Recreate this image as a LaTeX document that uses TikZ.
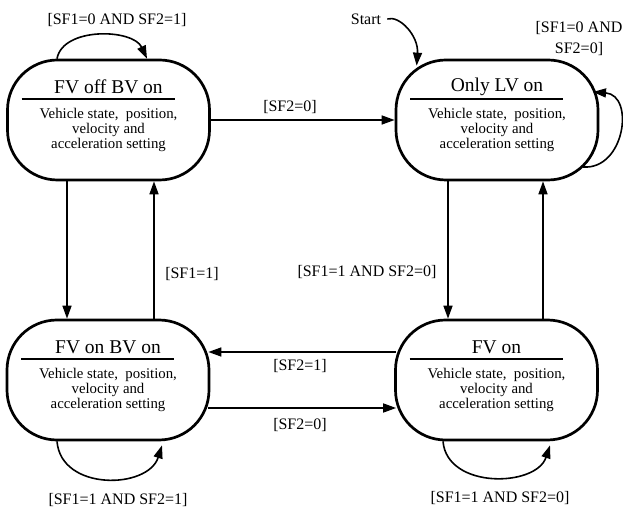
\documentclass[tikz,border=0pt]{standalone}
\usepackage{fontspec}
\setmainfont{Liberation Serif}
\usetikzlibrary{arrows.meta}
\begin{document}
\begin{tikzpicture}[x=1pt,y=-1pt,
  state/.style={draw, line width=2.7pt, rounded corners=50pt, minimum width=202pt, minimum height=120pt, inner sep=0pt},
  ttl/.style={font=\fontsize{19.5}{21}\selectfont, inner sep=0pt},
  body/.style={font=\fontsize{14.8}{15}\selectfont, align=center, inner sep=0pt},
  lbl/.style={font=\fontsize{16}{21}\selectfont, inner sep=0pt, align=center},
  conn/.style={line width=1.6pt, -{Triangle[length=13pt,width=9pt]}},
  sep/.style={line width=1.5pt}
]
\fill[white] (0,0) rectangle (623,510);
\useasboundingbox (0,0) rectangle (623,510);

\node[state] (s1) at (108.5,120) {};
\node[state] (s2) at (497,120) {};
\node[state] (s3) at (108,380) {};
\node[state] (s4) at (496.5,380) {};

\foreach \n/\t in {s1/FV off BV on, s2/Only LV on, s3/FV on BV on, s4/FV on} {
  \node[ttl] (\n t) at ([yshift=33pt]\n.center) {\t};
  \draw[sep] ([xshift=-87pt,yshift=21pt]\n.center) coordinate (\n l) -- ([xshift=66pt,yshift=21pt]\n.center) coordinate (\n r);
  \node[body] (\n x) at ([yshift=-10pt]\n.center) {Vehicle state,\ \ position,\\velocity and\\acceleration setting};
}

% self loop s1
\draw[conn] ([xshift=-51.5pt]s1.north) .. controls +(6,-32) and +(-14,-30) .. ([xshift=38.5pt]s1.north);
\node[lbl] (l1) at (117,20) {[SF1=0 AND SF2=1]};

% s1 -> s2
\draw[conn] (s1.east) -- (s2.west);
\node[lbl] (l2) at (290,107) {[SF2=0]};

% start
\node[lbl] (st) at (366,19) {Start};
\coordinate (stS) at ([xshift=6pt]st.east);
\coordinate (s2tip) at ([xshift=22pt,yshift=-7pt]s2.north west);
\draw[conn] (stS) .. controls +(12,-4) and +(2,-30) .. (s2tip);

% self loop s2
\coordinate (s2a) at ([xshift=86pt,yshift=-47pt]s2.center);
\coordinate (s2b) at ([xshift=96pt,yshift=28pt]s2.center);
\draw[conn] (s2a) .. controls (625,170) and (635,95) .. (s2b);
\node[lbl] (l3) at (579,39) {[SF1=0 AND\\SF2=0]};

% s2 -> s4
\draw[conn] ([xshift=-49pt]s2.south) -- ([xshift=-49pt]s2.south |- s4.north);
\node[lbl] (l4) at (367,272) {[SF1=1 AND SF2=0]};
% s4 -> s2
\draw[conn] ([xshift=46.5pt]s4.north) -- ([xshift=46.5pt]s4.north |- s2.south);

% s1 -> s3
\draw[conn] ([xshift=-41.5pt]s1.south) -- ([xshift=-41.5pt]s1.south |- s3.north);
% s3 -> s1
\draw[conn] ([xshift=46pt]s3.north) -- ([xshift=46pt]s3.north |- s1.south);
\node[lbl] (l5) at (192,274) {[SF1=1]};

% s4 -> s3
\draw[conn] ([xshift=2pt,yshift=28pt]s4.west) -- ([xshift=-2pt,yshift=28pt]s4.west -| s3.east);
\node[lbl] (l6) at (300,366) {[SF2=1]};
% s3 -> s4
\draw[conn] ([xshift=-2pt,yshift=-28pt]s3.east) -- ([xshift=2pt,yshift=-28pt]s3.east -| s4.west);
\node[lbl] (l7) at (300,425) {[SF2=0]};

% self loop s3
\draw[conn] ([xshift=-51pt]s3.south) .. controls +(4,50) and +(-14,44) .. ([xshift=54pt,yshift=-4pt]s3.south);
\node[lbl] (l8) at (118,500) {[SF1=1 AND SF2=1]};

% self loop s4
\draw[conn] ([xshift=-53.5pt]s4.south) .. controls +(4,48) and +(-14,42) .. ([xshift=53.5pt,yshift=-4pt]s4.south);
\node[lbl] (l9) at (500,498) {[SF1=1 AND SF2=0]};
\end{tikzpicture}
\end{document}
